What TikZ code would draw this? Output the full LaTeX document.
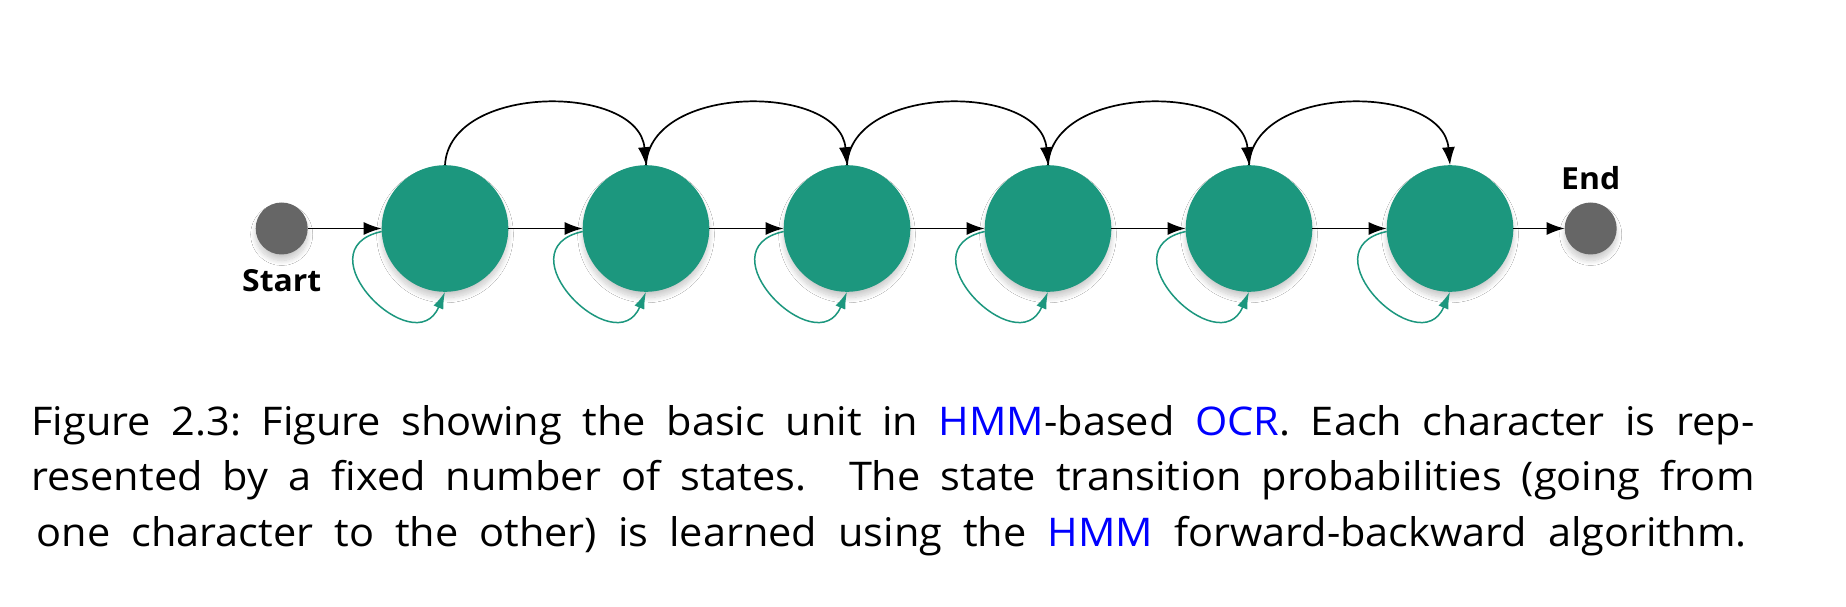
\documentclass[tikz,border=0pt]{standalone}
\usepackage{fontspec}
\setmainfont{Open Sans}[FakeStretch=1.05]
\usetikzlibrary{arrows.meta,shadows.blur}
\definecolor{stgreen}{RGB}{28,151,126}
\definecolor{endgray}{RGB}{102,102,102}
\definecolor{linkblue}{RGB}{0,0,255}
\begin{document}
\begin{tikzpicture}[x=1pt,y=1pt,
  softshadow/.style={blur shadow={shadow xshift=0pt,shadow yshift=-6pt,shadow blur radius=5pt,shadow blur steps=12,shadow opacity=20}},
  statenode/.style={circle,fill=stgreen,minimum size=126.6pt,inner sep=0pt,outer sep=0pt,softshadow},
  termnode/.style={circle,fill=endgray,minimum size=52pt,inner sep=0pt,outer sep=0pt,softshadow},
  flow/.style={draw=black,line width=1.7pt,-{Latex[length=18pt,width=13pt]}},
  selfloop/.style={draw=stgreen,line width=1.5pt,-{Latex[length=17pt,width=10.5pt]}},
  lbltext/.style={font=\fontsize{30.4}{36}\selectfont\bfseries,anchor=base,inner sep=0pt},
  captext/.style={font=\fontsize{39.5}{47}\selectfont,anchor=base,inner sep=0pt}]
\useasboundingbox (0,0) rectangle (1846,606);
\fill[white] (0,0) rectangle (1846,606);

\node[termnode] (start) at (281.7,377.5) {};
\foreach \i/\x in {1/445,2/646,3/847,4/1048,5/1249,6/1450}
  \node[statenode] (s\i) at (\x,377.5) {};
\node[termnode] (end) at (1590.7,377.5) {};

\node[lbltext] (startlbl) at (281.7,314.3) {Start};
\node[lbltext] (endlbl) at (1590.7,416) {End};

\draw[flow] (start) -- (s1);
\foreach \i/\j in {1/2,2/3,3/4,4/5,5/6}
  \draw[flow] (s\i) -- (s\j);
\draw[flow] (s6) -- (end);

\foreach \i/\j in {1/2,2/3,3/4,4/5,5/6}
  \draw[flow] (s\i.north) to[out=87,in=95,looseness=1.05] (s\j.north);

\foreach \i in {1,...,6}
  \draw[selfloop] ([yshift=-3pt]s\i.west) .. controls +(-82,-18) and +(-30,-72) .. (s\i.south);

\node[captext] (c1) at (893,171) {\makebox[1723pt][s]{Figure 2.3:\ Figure showing the basic unit in \textcolor{linkblue}{HMM}-based \textcolor{linkblue}{OCR}. Each character is rep-}};
\node[captext] (c2) at (893,116) {\makebox[1723pt][s]{resented by a fixed number of states. The state transition probabilities (going from}};
\node[captext] (c3) at (891.7,59.3) {\makebox[1710pt][s]{one character to the other) is learned using the \textcolor{linkblue}{HMM} forward-backward algorithm.}};
\end{tikzpicture}
\end{document}
